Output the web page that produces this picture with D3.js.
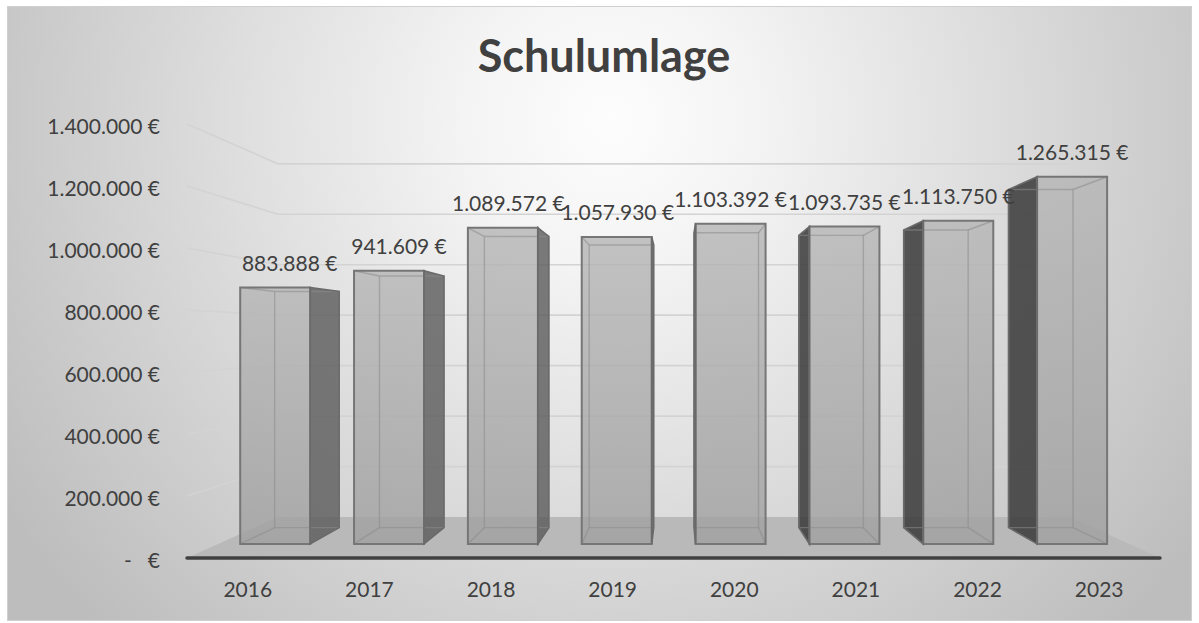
<!DOCTYPE html>
<html><head><meta charset="utf-8">
<script src="https://cdn.jsdelivr.net/npm/d3@7"></script>
<style>
html,body{margin:0;padding:0;background:#fff;}
svg{display:block;font-family:Lato,"Open Sans",sans-serif;}
</style></head><body>
<svg id="chart" width="1199" height="623"></svg>
<script>
// Schulumlage per year (EUR)
const years  = ["2016","2017","2018","2019","2020","2021","2022","2023"];
const values = [883888, 941609, 1089572, 1057930, 1103392, 1093735, 1113750, 1265315];
const yTicks = [0, 200000, 400000, 600000, 800000, 1000000, 1200000, 1400000];
const chartTitle = "Schulumlage";

const svg = d3.select("#chart");
const de = d3.formatLocale({decimal: ",", thousands: ".", grouping: [3], currency: ["", " €"]});
const fmtNum = de.format(",.0f");
const fmt = v => v === 0 ? "-   €" : fmtNum(v) + " €";

// front plane scales
const x = d3.scaleBand().domain(years).range([187, 1160]).paddingInner(0.385).paddingOuter(0.1925);
const y = d3.scaleLinear().domain([0, 1400000]).range([558, 124]);

// simple one-point perspective: depth 0 = front edge of floor, 1 = back wall
const V = [676, 338];
const depth = d3.scaleLinear().domain([0, 1]).range([1, 0.814]);
const sWall = depth(1), sBarF = depth(0.344), sBarB = depth(0.742);
const P = (px, py, s) => [V[0] + (px - V[0]) * s, V[1] + (py - V[1]) * s];
const poly = pts => "M" + pts.map(p => p.join(",")).join("L") + "Z";
const line = pts => "M" + pts.map(p => p.join(",")).join("L");

// ---- defs
const defs = svg.append("defs");
const bg = defs.append("radialGradient").attr("id", "bg")
  .attr("gradientUnits", "userSpaceOnUse").attr("cx", 610).attr("cy", 120).attr("r", 720);
bg.append("stop").attr("offset", 0).attr("stop-color", "#fdfdfd");
bg.append("stop").attr("offset", 0.2).attr("stop-color", "#f4f4f4");
bg.append("stop").attr("offset", 1).attr("stop-color", "#bdbdbd");
const fg = defs.append("linearGradient").attr("id", "front").attr("x1", 0).attr("y1", 0).attr("x2", 0).attr("y2", 1);
fg.append("stop").attr("offset", 0).attr("stop-color", "#b5b5b5");
fg.append("stop").attr("offset", 1).attr("stop-color", "#a0a0a0");

// ---- chart area
svg.append("rect").attr("x", 7.5).attr("y", 6.5).attr("width", 1184).attr("height", 614)
  .attr("fill", "url(#bg)").attr("stroke", "#d0d0d0").attr("stroke-width", 1);

// ---- title
svg.append("text").attr("x", 604).attr("y", 72).attr("text-anchor", "middle")
  .attr("font-size", 45).attr("font-weight", 700).attr("fill", "#404040").text(chartTitle);

// ---- walls: gridlines on side wall + back wall
const [x0, x1] = x.range();
svg.append("g").selectAll("path").data(yTicks.filter(d => d > 0)).join("path")
  .attr("d", d => line([P(x0, y(d), 1), P(x0, y(d), sWall), P(x1, y(d), sWall)]))
  .attr("fill", "none").attr("stroke", "#d3d3d3").attr("stroke-width", 1.7);

// ---- floor
svg.append("path")
  .attr("d", poly([P(x0, y(0), 1), P(x1, y(0), 1), P(x1, y(0), sWall), P(x0, y(0), sWall)]))
  .attr("fill", "#b9b9b9");

// ---- bars
const bars = years.map((yr, i) => {
  const xl = x(yr), xr = xl + x.bandwidth(), yt = y(values[i]), yb = y(0);
  const c = {
    FTL: P(xl, yt, sBarF), FTR: P(xr, yt, sBarF), FBL: P(xl, yb, sBarF), FBR: P(xr, yb, sBarF),
    BTL: P(xl, yt, sBarB), BTR: P(xr, yt, sBarB), BBL: P(xl, yb, sBarB), BBR: P(xr, yb, sBarB)
  };
  const leftOfEye = (xl + xr) / 2 < V[0];
  return {yr, v: values[i], c, leftOfEye};
});

const gBars = svg.append("g");
bars.forEach(b => {
  const c = b.c;
  const g = gBars.append("g");
  // front face
  g.append("path").attr("d", poly([c.FTL, c.FTR, c.FBR, c.FBL]))
    .attr("fill", "url(#front)").attr("fill-opacity", 0.8);
  // visible side face
  const side = b.leftOfEye ? [c.FTR, c.BTR, c.BBR, c.FBR] : [c.FTL, c.BTL, c.BBL, c.FBL];
  g.append("path").attr("d", poly(side))
    .attr("fill", b.leftOfEye ? "#5a5a5a" : "#3a3a3a").attr("fill-opacity", b.leftOfEye ? 0.8 : 0.86);
  // hidden edges seen through the faces
  const hidden = [
    [c.BTL, c.BTR, c.BBR, c.BBL, c.BTL],
    b.leftOfEye ? [c.FTL, c.BTL] : [c.FTR, c.BTR],
    b.leftOfEye ? [c.FBL, c.BBL] : [c.FBR, c.BBR]
  ];
  hidden.forEach(h => g.append("path").attr("d", line(h)).attr("fill", "none")
    .attr("stroke", "#8a8a8a").attr("stroke-opacity", 0.55).attr("stroke-width", 1.4));
  // outlines of visible faces
  g.append("path").attr("d", poly([c.FTL, c.FTR, c.FBR, c.FBL])).attr("fill", "none")
    .attr("stroke", "#767676").attr("stroke-width", 2);
  g.append("path").attr("d", poly(side)).attr("fill", "none")
    .attr("stroke", "#6a6a6a").attr("stroke-width", 1.6);
});

// ---- category axis line
svg.append("line").attr("x1", x0).attr("x2", x1).attr("y1", y(0)).attr("y2", y(0))
  .attr("stroke", "#404040").attr("stroke-width", 3.5).attr("stroke-linecap", "round");

// ---- value axis labels
svg.append("g").selectAll("text").data(yTicks).join("text")
  .attr("x", 160).attr("y", d => y(d) + 1).attr("text-anchor", "end")
  .attr("dominant-baseline", "central").style("white-space", "pre")
  .attr("font-size", 21).attr("fill", "#404040").text(fmt);

// ---- category labels
svg.append("g").selectAll("text").data(years).join("text")
  .attr("x", d => x(d) + x.bandwidth() / 2).attr("y", 588).attr("text-anchor", "middle")
  .attr("dominant-baseline", "central").attr("font-size", 21).attr("fill", "#404040").text(d => d);

// ---- data labels above each column
svg.append("g").selectAll("text").data(bars).join("text")
  .attr("x", b => b.leftOfEye ? (b.c.FTL[0] + b.c.BTR[0]) / 2 : (b.c.FTL[0] + b.c.FTR[0]) / 2)
  .attr("y", b => b.c.FTL[1] - 25).attr("text-anchor", "middle")
  .attr("dominant-baseline", "central").attr("font-size", 21).attr("fill", "#404040")
  .text(b => fmt(b.v));
</script>
</body></html>
